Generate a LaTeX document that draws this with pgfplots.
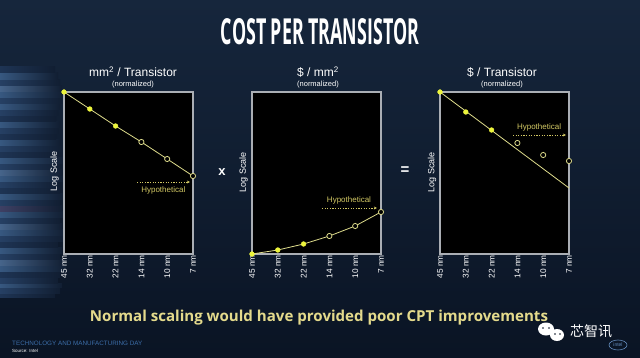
\documentclass[border=0pt]{standalone}
\usepackage{pgfplots}
\pgfplotsset{compat=1.18}
\usepackage{fontspec}
\setmainfont{Liberation Sans}
\newfontfamily\osans{Open Sans}
\newfontfamily\cjk{Noto Sans CJK SC}
\usetikzlibrary{arrows.meta}
\definecolor{bgtop}{RGB}{22,38,60}
\definecolor{bgbot}{RGB}{10,20,36}
\definecolor{bgmid}{RGB}{17,30,50}
\definecolor{sA}{RGB}{55,88,128}
\definecolor{sB}{RGB}{38,64,100}
\definecolor{sC}{RGB}{30,52,84}
\definecolor{sD}{RGB}{70,100,138}
\definecolor{sE}{RGB}{62,64,100}
\definecolor{boxgray}{RGB}{170,174,180}
\definecolor{ptyellow}{RGB}{236,244,60}
\definecolor{lineyellow}{RGB}{222,220,140}
\definecolor{hypo}{RGB}{210,200,100}
\definecolor{bottomtxt}{RGB}{228,218,140}
\definecolor{tmblue}{RGB}{60,110,170}

\tikzset{hypoarrow/.style={draw=hypo, line width=0.8pt, dash pattern=on 1.2pt off 1.4pt, -{Stealth[length=3pt,width=3pt]}}}

\pgfplotsset{
  panel/.style={
    scale only axis, width=129pt, height=162pt,
    xmin=0, xmax=5, ymin=0, ymax=162,
    anchor=south west, clip=false,
    axis background/.style={fill=black},
    axis line style={draw=boxgray, line width=1.2pt},
    xtick={0,1,2,3,4,5},
    xticklabels={45 nm,32 nm,22 nm,14 nm,10 nm,7 nm},
    xticklabel style={rotate=90, anchor=east, font=\fontsize{8.3}{9}\selectfont, text=white, inner sep=1pt},
    major tick length=0pt, ytick=\empty,
  },
  lineser/.style={draw=lineyellow, line width=0.8pt, no marks},
  filledser/.style={only marks, mark=*, mark size=2.4pt, mark options={fill=ptyellow, draw=ptyellow}},
  openser/.style={only marks, mark=*, mark size=2.6pt, mark options={fill=black, draw=lineyellow, line width=0.8pt}},
}

\begin{document}
\begin{tikzpicture}[x=1pt,y=1pt]
% background
\shade[top color=bgtop, bottom color=bgbot] (0,0) rectangle (640,357);
\useasboundingbox (0,0) rectangle (640,357);
% left streaks (continuous band, fading to the right)
\foreach \yb/\ya/\c/\w in {
  60/64/sC/55, 64/70/sB/60, 70/74/sA/62, 74/80/sB/58, 80/86/sC/60, 86/92/sA/66, 92/98/sD/64, 98/104/sB/60,
  104/110/sA/62, 110/116/sC/58, 116/122/sB/64, 122/128/sA/66, 128/134/sD/62, 134/140/sB/60, 140/146/sA/64,
  146/152/sE/62, 152/158/sB/60, 158/164/sA/64, 164/170/sC/60, 170/176/sB/58, 176/182/sA/64, 182/188/sD/62,
  188/194/sB/60, 194/200/sA/64, 200/206/sC/58, 206/212/sB/62, 212/218/sA/60, 218/224/sC/56, 224/230/sB/58,
  230/236/sA/60, 236/242/sC/56, 242/248/sB/58, 248/254/sA/60, 254/260/sB/62, 260/266/sA/64, 266/272/sD/62,
  272/278/sB/60, 278/284/sA/58, 284/290/sC/55}{
  \shade[left color=\c, right color=bgmid] (0,\yb) rectangle (\w,\ya);
}

% title
\node[text=white] at (320,325) {\resizebox{198pt}{26pt}{\osans\bfseries COST PER TRANSISTOR}};

% panel titles
\node[text=white, font=\fontsize{12}{12}\selectfont] at (133,285) {mm\textsuperscript{2} / Transistor};
\node[text=white, font=\fontsize{7.5}{8}\selectfont] at (133,272) {(normalized)};
\node[text=white, font=\fontsize{12}{12}\selectfont] at (318,285) {\$ / mm\textsuperscript{2}};
\node[text=white, font=\fontsize{7.5}{8}\selectfont] at (318,272) {(normalized)};
\node[text=white, font=\fontsize{12}{12}\selectfont] at (502,285) {\$ / Transistor};
\node[text=white, font=\fontsize{7.5}{8}\selectfont] at (502,272) {(normalized)};

% Log scale labels
\node[text=white, rotate=90, font=\fontsize{9}{9}\selectfont] at (54.5,186) {Log Scale};
\node[text=white, rotate=90, font=\fontsize{9}{9}\selectfont] at (243.5,185) {Log Scale};
\node[text=white, rotate=90, font=\fontsize{9}{9}\selectfont] at (432,185) {Log Scale};

% operators
\node[text=white, font=\bfseries\fontsize{13}{13}\selectfont] at (222,185) {x};
\node[text=white, font=\bfseries\fontsize{15}{15}\selectfont] at (405,186) {=};

% Panel 1
\begin{axis}[panel, at={(64pt,103pt)}]
\addplot[lineser] coordinates {(0,162) (1,145) (2,128) (3,112) (4,95) (5,78)};
\addplot[filledser] coordinates {(0,162) (1,145) (2,128)};
\addplot[openser] coordinates {(3,112) (4,95) (5,78)};
\draw[hypoarrow] (axis cs:2.83,72) -- (axis cs:4.88,72);
\node[text=hypo, font=\fontsize{8}{8}\selectfont] at (axis cs:3.85,64) {Hypothetical};
\end{axis}

% Panel 2
\begin{axis}[panel, at={(252pt,103pt)}]
\addplot[lineser] coordinates {(0,0) (1,4) (2,10) (3,18) (4,28) (5,42)};
\addplot[filledser] coordinates {(0,0) (1,4) (2,10)};
\addplot[openser] coordinates {(3,18) (4,28) (5,42)};
\draw[hypoarrow] (axis cs:2.71,46) -- (axis cs:4.84,46);
\node[text=hypo, font=\fontsize{8}{8}\selectfont] at (axis cs:3.76,54) {Hypothetical};
\end{axis}

% Panel 3
\begin{axis}[panel, at={(440pt,103pt)}]
\addplot[lineser] coordinates {(0,162) (5,66)};
\addplot[filledser] coordinates {(0,162) (1,142) (2,124)};
\addplot[openser] coordinates {(3,111) (4,99) (5,93)};
\draw[hypoarrow] (axis cs:2.83,119) -- (axis cs:4.88,119);
\node[text=hypo, font=\fontsize{8}{8}\selectfont] at (axis cs:3.84,127) {Hypothetical};
\end{axis}

% bottom statement
\node at (319,39) {\resizebox{458pt}{!}{\color{bottomtxt}\osans\bfseries Normal scaling would have provided poor CPT improvements}};

% footer
\node[anchor=west, text=tmblue, inner sep=0pt, font=\fontsize{6.3}{7}\selectfont] at (12,14) {TECHNOLOGY AND MANUFACTURING DAY};
\node[anchor=west, text=white, inner sep=0pt, font=\fontsize{4.5}{5}\selectfont] at (12,6) {Source: Intel};

% watermark
\fill[white] (546,28) ellipse (8pt and 6.5pt);
\fill[white] (557,22) ellipse (7pt and 6pt);
\fill[bgbot] (543,29) circle (0.9pt) (549,29) circle (0.9pt) (555,23) circle (0.8pt) (560,23) circle (0.8pt);
\node[anchor=west, text=white, inner sep=0pt, font=\cjk\fontsize{14}{14}\selectfont] at (570,26) {芯智讯};
% intel logo
\draw[tmblue!80!white, line width=0.6pt] (618,12) ellipse (9pt and 5pt);
\node[text=tmblue!80!white, font=\fontsize{5}{5}\selectfont] at (618,12) {intel};
\end{tikzpicture}
\end{document}
